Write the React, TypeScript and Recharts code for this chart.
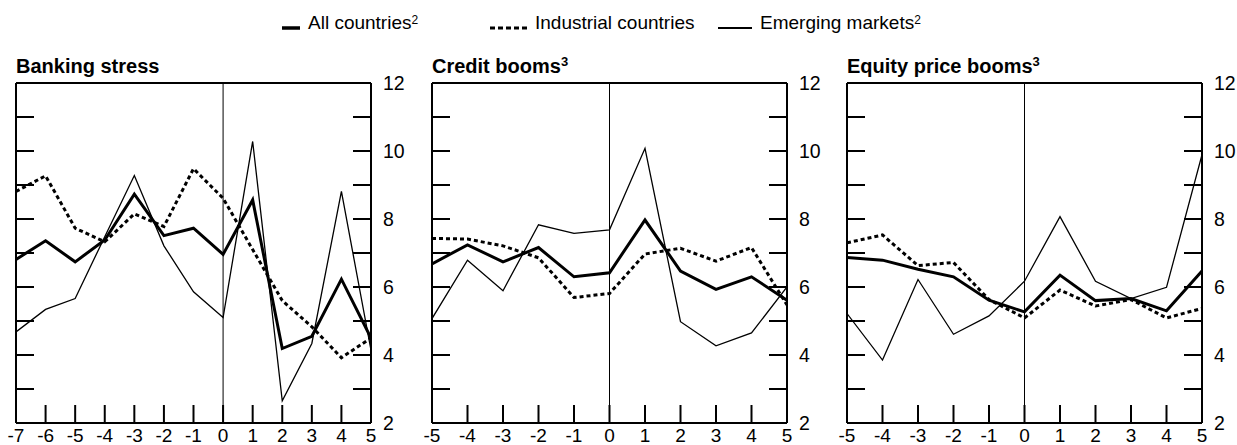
import { LineChart, Line, XAxis, YAxis, ReferenceLine } from 'recharts';

// Periods relative to the event (t = 0)
const BANK_T = [-7, -6, -5, -4, -3, -2, -1, 0, 1, 2, 3, 4, 5];
const BOOM_T = [-5, -4, -3, -2, -1, 0, 1, 2, 3, 4, 5];

// Banking stress
const BANK_ALL = [6.81, 7.36, 6.74, 7.38, 8.73, 7.51, 7.73, 6.96, 8.56, 4.19, 4.55, 6.23, 4.5];
const BANK_IND = [8.81, 9.27, 7.73, 7.33, 8.15, 7.78, 9.48, 8.61, 7.1, 5.6, 4.83, 3.92, 4.5];
const BANK_EM = [4.68, 5.34, 5.66, 7.48, 9.28, 7.21, 5.86, 5.1, 10.28, 2.65, 4.34, 8.81, 4.14];

// Credit booms
const CREDIT_ALL = [6.68, 7.24, 6.74, 7.16, 6.3, 6.42, 7.97, 6.47, 5.93, 6.3, 5.61];
const CREDIT_IND = [7.43, 7.41, 7.21, 6.86, 5.69, 5.81, 6.97, 7.14, 6.76, 7.16, 5.47];
const CREDIT_EM = [5.07, 6.79, 5.89, 7.83, 7.58, 7.68, 10.08, 4.98, 4.27, 4.65, 6.0];

// Equity price booms
const EQUITY_ALL = [6.87, 6.79, 6.52, 6.3, 5.61, 5.27, 6.35, 5.6, 5.66, 5.3, 6.47];
const EQUITY_IND = [7.3, 7.53, 6.63, 6.72, 5.63, 5.09, 5.91, 5.44, 5.63, 5.09, 5.37];
const EQUITY_EM = [5.22, 3.85, 6.22, 4.61, 5.15, 6.17, 8.07, 6.17, 5.66, 5.99, 9.89];

const Y_TICKS = [2, 3, 4, 5, 6, 7, 8, 9, 10, 11, 12];

const FONT = '"Liberation Sans", Arial, Helvetica, sans-serif';
const INNER_TICK = 18;

const toRows = (t: number[], all: number[], ind: number[], em: number[]) =>
  t.map((v, i) => ({ t: v, all: all[i], ind: ind[i], em: em[i] }));

function LeftTick({ x, y }: any) {
  return <line x1={x} x2={x + INNER_TICK} y1={y} y2={y} stroke="#000" strokeWidth={2} />;
}

function RightTick({ x, y, payload }: any) {
  return (
    <g>
      <line x1={x - INNER_TICK} x2={x} y1={y} y2={y} stroke="#000" strokeWidth={2} />
      {payload.value % 2 === 0 && (
        <text x={x + 12} y={y} dy="0.355em" fontSize={19.5} fontFamily={FONT} fill="#000">
          {payload.value}
        </text>
      )}
    </g>
  );
}

function BottomTick({ x, y, payload }: any) {
  return (
    <g>
      <line x1={x} x2={x} y1={y - INNER_TICK} y2={y} stroke="#000" strokeWidth={2} />
      <text x={x} y={y + 6} dy="0.71em" textAnchor="middle" fontSize={19} fontFamily={FONT} fill="#000">
        {payload.value}
      </text>
    </g>
  );
}

interface PanelProps {
  left: number;
  title: string;
  sup?: string;
  t: number[];
  all: number[];
  ind: number[];
  em: number[];
}

function Panel({ left, title, sup, t, all, ind, em }: PanelProps) {
  const data = toRows(t, all, ind, em);
  const lo = t[0];
  const hi = t[t.length - 1];
  return (
    <>
      <div
        style={{
          position: 'absolute', left, top: 56, fontFamily: FONT, fontWeight: 'bold',
          fontSize: 20, lineHeight: '20px', whiteSpace: 'nowrap',
        }}
      >
        {title}
        {sup && <sup style={{ fontSize: 13, verticalAlign: 'top', position: 'relative', top: -4 }}>{sup}</sup>}
      </div>
      <div style={{ position: 'absolute', left: left - 16, top: 50 }}>
        <LineChart width={420} height={395} data={data} margin={{ top: 33, right: 4, bottom: 0, left: 15 }}>
          <XAxis
            dataKey="t" type="number" domain={[lo, hi]} ticks={t} allowDataOverflow
            height={22} tickSize={0} tickMargin={0} tick={<BottomTick />} interval={0}
            axisLine={{ stroke: '#000', strokeWidth: 2 }}
          />
          <YAxis
            yAxisId="l" orientation="left" domain={[2, 12]} ticks={Y_TICKS} allowDataOverflow
            width={1} tickSize={0} tickMargin={0} tick={<LeftTick />} interval={0}
            axisLine={{ stroke: '#000', strokeWidth: 2 }}
          />
          <YAxis
            yAxisId="r" orientation="right" domain={[2, 12]} ticks={Y_TICKS} allowDataOverflow
            width={45} tickSize={0} tickMargin={0} tick={<RightTick />} interval={0}
            axisLine={{ stroke: '#000', strokeWidth: 2 }}
          />
          <ReferenceLine yAxisId="r" y={12} stroke="#000" strokeWidth={2} />
          <ReferenceLine yAxisId="r" x={0} stroke="#000" strokeWidth={1} />
          <Line yAxisId="r" dataKey="em" type="linear" stroke="#000" strokeWidth={1.3} dot={false} isAnimationActive={false} />
          <Line yAxisId="r" dataKey="ind" type="linear" stroke="#000" strokeWidth={3} strokeDasharray="4 3" dot={false} isAnimationActive={false} />
          <Line yAxisId="r" dataKey="all" type="linear" stroke="#000" strokeWidth={3} dot={false} isAnimationActive={false} />
        </LineChart>
      </div>
    </>
  );
}

function LegendItem({ x, label, sup, width, dash, stroke }: any) {
  return (
    <div style={{ position: 'absolute', left: x, top: 12, display: 'flex', alignItems: 'flex-start', whiteSpace: 'nowrap' }}>
      <svg width={width} height={22} style={{ marginRight: 8 }}>
        <line x1={0} x2={width} y1={16} y2={16} stroke="#000" strokeWidth={stroke} strokeDasharray={dash} />
      </svg>
      <span style={{ fontFamily: FONT, fontSize: 19, lineHeight: '22px' }}>
        {label}
        {sup && <sup style={{ fontSize: 12, verticalAlign: 'top', position: 'relative', top: -3 }}>{sup}</sup>}
      </span>
    </div>
  );
}

export default function App() {
  return (
    <div style={{ position: 'absolute', left: 0, top: 0, width: 1237, height: 445, background: '#fff', overflow: 'hidden' }}>
      <LegendItem x={282} width={18} stroke={3.5} label="All countries" sup="2" />
      <LegendItem x={490} width={37} stroke={3} dash="5 3" label="Industrial countries" />
      <LegendItem x={718} width={34} stroke={2} label="Emerging markets" sup="2" />
      <Panel left={16} title="Banking stress" t={BANK_T} all={BANK_ALL} ind={BANK_IND} em={BANK_EM} />
      <Panel left={432} title="Credit booms" sup="3" t={BOOM_T} all={CREDIT_ALL} ind={CREDIT_IND} em={CREDIT_EM} />
      <Panel left={847} title="Equity price booms" sup="3" t={BOOM_T} all={EQUITY_ALL} ind={EQUITY_IND} em={EQUITY_EM} />
    </div>
  );
}
